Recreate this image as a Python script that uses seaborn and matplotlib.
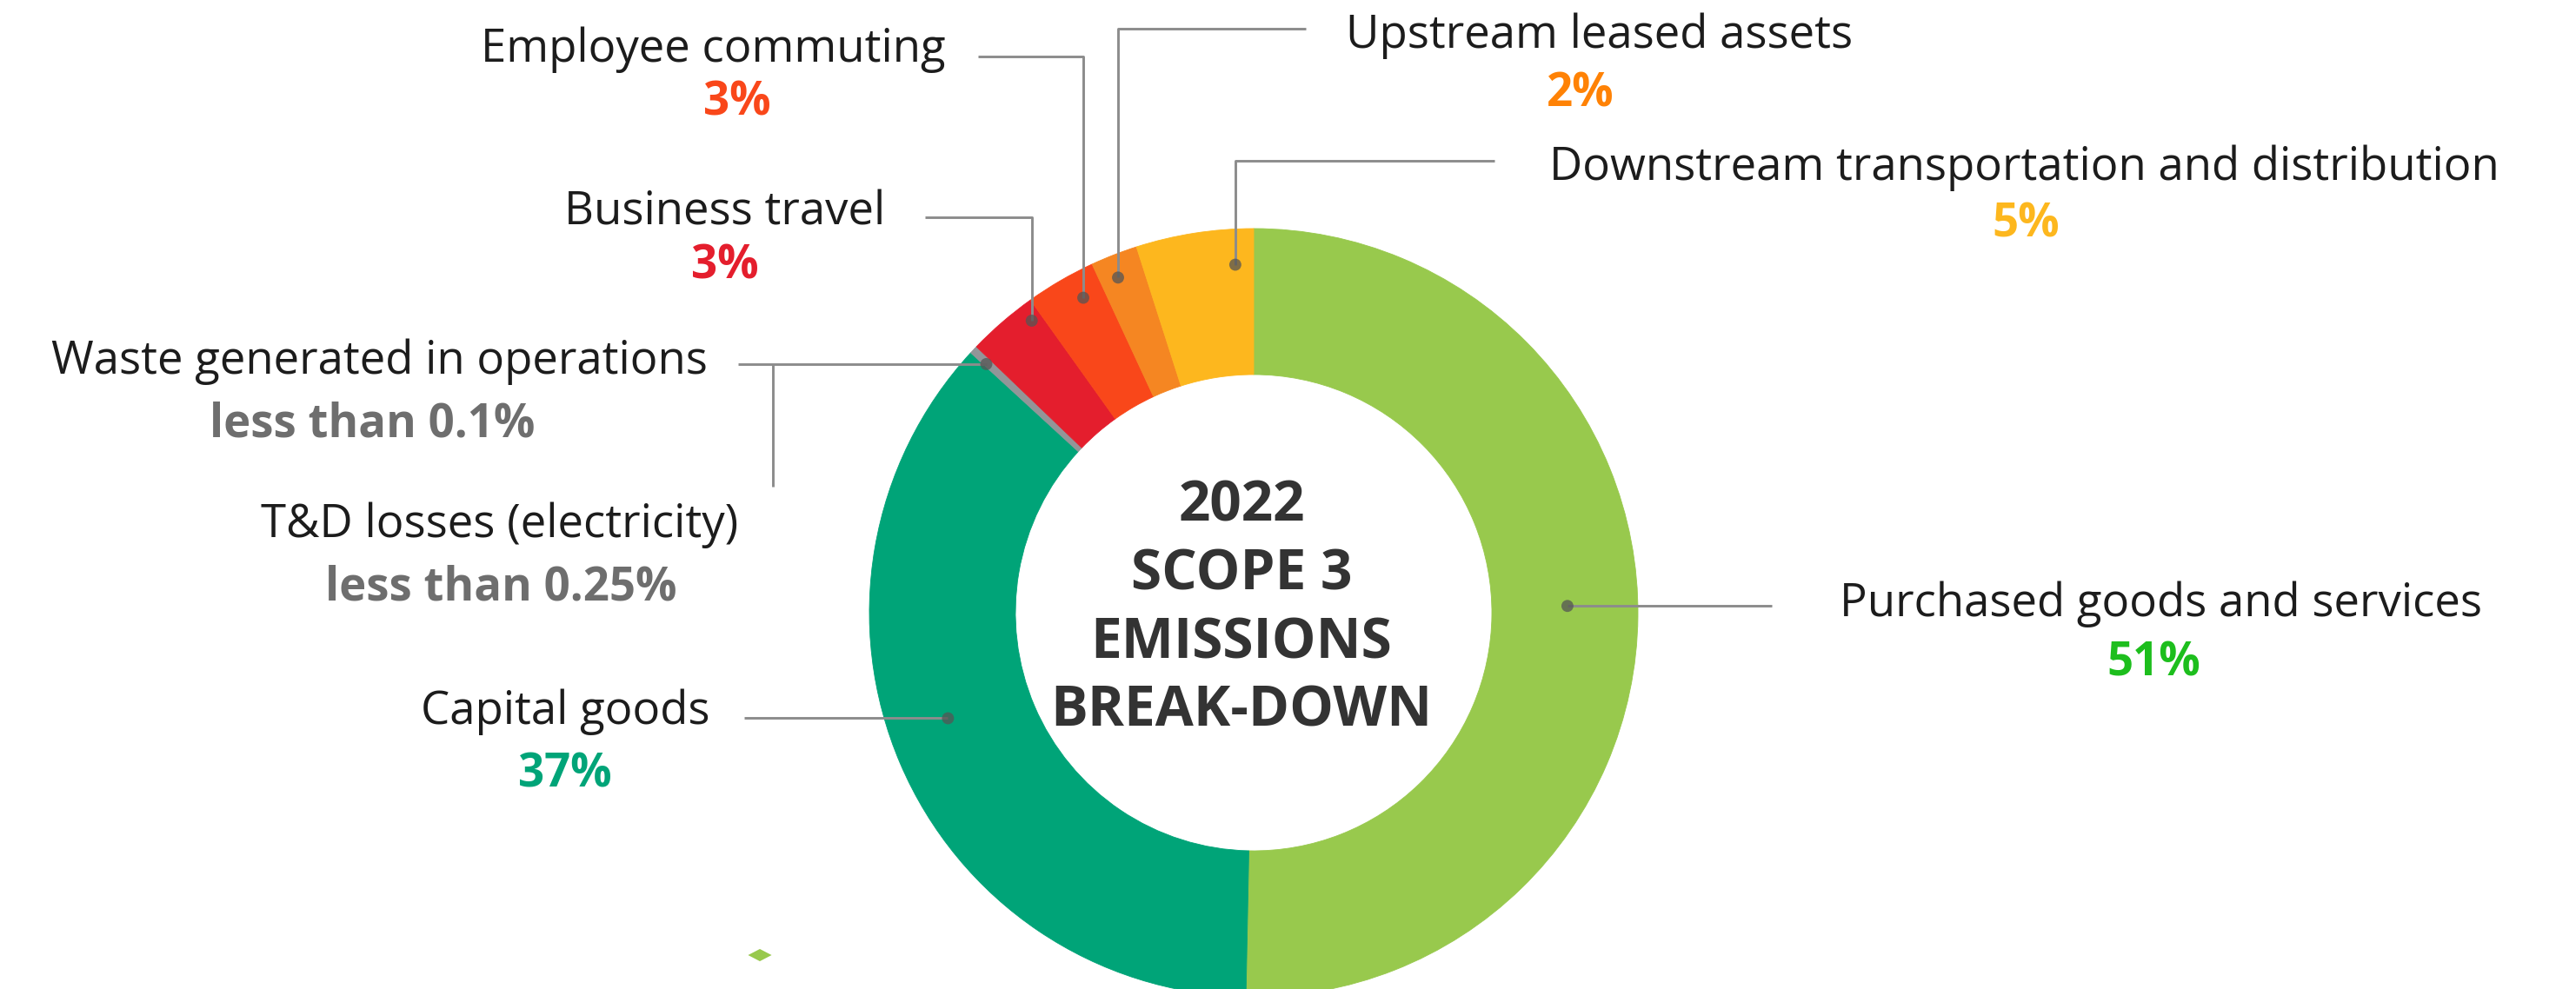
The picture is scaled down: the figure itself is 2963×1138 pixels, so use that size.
import numpy as np
import pandas as pd
import matplotlib
matplotlib.use("Agg")
import matplotlib.pyplot as plt
from matplotlib.path import Path
import seaborn as sns

# ---- data -------------------------------------------------------------
categories = [
    "Purchased goods and services",
    "Capital goods",
    "T&D losses (electricity)",
    "Waste generated in operations",
    "Business travel",
    "Employee commuting",
    "Upstream leased assets",
    "Downstream transportation and distribution",
]
shares = [51, 37, 0.25, 0.1, 3, 3, 2, 5]
share_labels = ["51%", "37%", "less than 0.25%", "less than 0.1%", "3%", "3%", "2%", "5%"]
title_lines = ["2022", "SCOPE 3", "EMISSIONS", "BREAK-DOWN"]

# ---- styling ----------------------------------------------------------
wedge_colors = ["#98C94D", "#00A478", "#939598", "#939598",
                "#E41E2D", "#F9471A", "#F58622", "#FDB71E"]
value_colors = ["#1DBE1D", "#00A478", "#6E6E6E", "#6E6E6E",
                "#E41E2D", "#F9471A", "#FF8205", "#FDB71E"]
NAME_COLOR = "#1C1C1C"
TITLE_COLOR = "#333333"
LINE_COLOR = "#8C8C8C"
DOT_COLOR = "#555555"

W, H, DPI = 2963, 1138, 100
CX, CY = 1442, 705          # ring centre (pixels, y downwards)
R_OUT, RING = 442, 168      # outer radius and ring thickness

sns.set_theme(style="white")
plt.rcParams["font.family"] = ["Open Sans", "DejaVu Sans"]

fig = plt.figure(figsize=(W / DPI, H / DPI), dpi=DPI)
ax = fig.add_axes([0, 0, 1, 1])

# y axis runs downwards, so a counter-clockwise pie in data space reads clockwise
ax.pie(shares, colors=wedge_colors, startangle=-90, counterclock=True,
       center=(CX, CY), radius=R_OUT,
       wedgeprops=dict(width=RING, linewidth=0.6, antialiased=True))
for w, c in zip(ax.patches, wedge_colors):
    w.set_edgecolor(c)
ax.set_xlim(0, W)
ax.set_ylim(H, 0)
ax.set_aspect("auto")
ax.axis("off")

# wedge extents in degrees, clockwise from 12 o'clock
total = float(sum(shares))
ends = np.cumsum(shares) / total * 360.0
starts = np.concatenate([[0.0], ends[:-1]])


def anchor(idx, frac, r):
    """Point inside wedge idx at fraction frac of its sweep and radius r."""
    a = np.deg2rad(starts[idx] + frac * (ends[idx] - starts[idx]))
    return CX + r * np.sin(a), CY - r * np.cos(a)


# anchor dots on the ring (wedge index, position within wedge, radius)
anchors = {
    0: anchor(0, 0.49, 361),
    1: anchor(1, 0.531, 372),
    2: anchor(2, 0.40, 420),
    4: anchor(4, 0.84, 422),
    5: anchor(5, 0.668, 412),
    6: anchor(6, 0.40, 416),
    7: anchor(7, 0.83, 401),
}


def seg(xs, ys):
    ax.plot(xs, ys, color=LINE_COLOR, lw=2.1, solid_capstyle="butt", zorder=3)


# leader lines
px, py = anchors[0]; seg([2038, px], [py, py])
px, py = anchors[1]; seg([856, px], [py, py])
px, py = anchors[2]; seg([849, px], [py, py]); seg([889, 889], [560, py])
px, py = anchors[4]; seg([1064, px, px], [250, 250, py])
px, py = anchors[5]; seg([1125, px, px], [65, 65, py])
px, py = anchors[6]; seg([1502, px, px], [33, 33, py])
px, py = anchors[7]; seg([1719, px, px], [185, 185, py])

dots = pd.DataFrame({"x": [p[0] for p in anchors.values()],
                     "y": [p[1] for p in anchors.values()]})
sns.scatterplot(data=dots, x="x", y="y", ax=ax, s=100, color=DOT_COLOR,
                alpha=0.75, edgecolor="none", zorder=4, legend=False)
ax.set_xlim(0, W)
ax.set_ylim(H, 0)
ax.axis("off")

# label placement: (name x, name baseline, value x, value baseline)
label_pos = [
    (2485, 709, 2477, 777),
    (650, 833, 650, 905),
    (575, 618, 576, 690),
    (436, 430, 428, 502),
    (834, 258, 834, 320),
    (820, 71, 848, 132),
    (1840, 55, 1818, 122),
    (2328, 207, 2330, 272),
]
FS = 38
for i, (nx, ny, vx, vy) in enumerate(label_pos):
    ax.text(nx, ny, categories[i], ha="center", va="baseline",
            fontsize=FS, color=NAME_COLOR)
    ax.text(vx, vy, share_labels[i], ha="center", va="baseline",
            fontsize=FS, fontweight="bold", color=value_colors[i])

# centre title
for line, base in zip(title_lines, [599, 678, 757, 835]):
    ax.text(1428, base, line, ha="center", va="baseline", fontsize=46,
            fontweight="bold", color=TITLE_COLOR)

# small decorative diamond below the labels
diamond = Path([(-1, 0), (0, 0.52), (1, 0), (0, -0.52), (-1, 0)],
               [Path.MOVETO, Path.LINETO, Path.LINETO, Path.LINETO, Path.CLOSEPOLY])
ax.scatter([874], [1099], marker=diamond, s=380, color="#98C94D",
           edgecolors="none", zorder=2)

fig.savefig("out.png", dpi=DPI, facecolor="white")
